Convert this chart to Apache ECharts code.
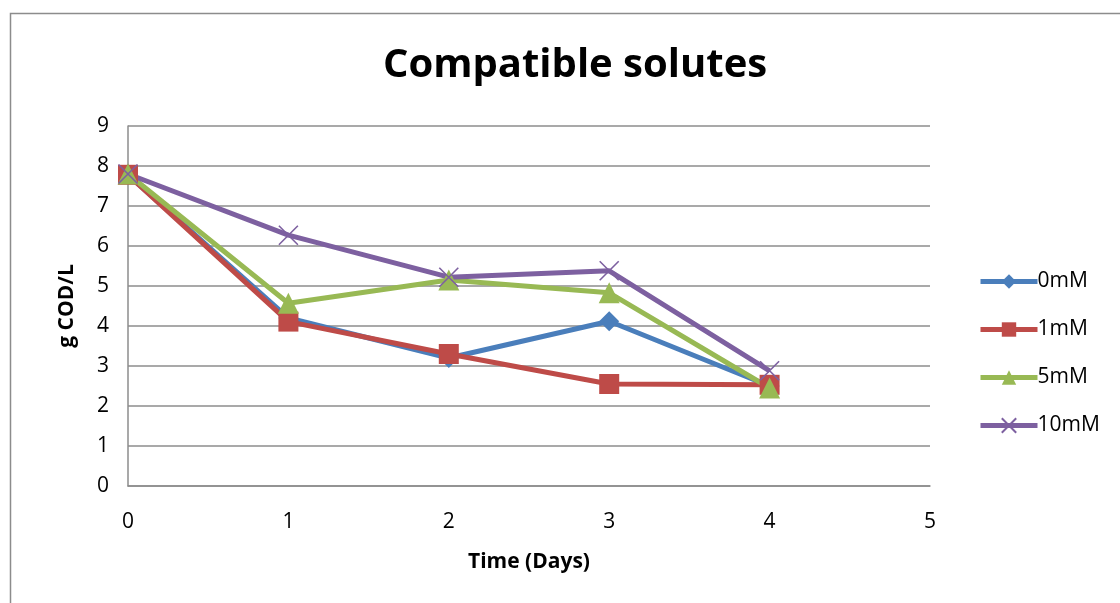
<!DOCTYPE html>
<html><head><meta charset="utf-8">
<script src="https://cdn.jsdelivr.net/npm/echarts@6/dist/echarts.min.js"></script>
<style>html,body{margin:0;padding:0;background:#fff}#c{width:1120px;height:603px}</style>
</head><body><div id="c"></div>
<script>
const days = [0, 1, 2, 3, 4];
const seriesNames = ['0mM', '1mM', '5mM', '10mM'];
const s0mM = [7.78, 4.2, 3.2, 4.12, 2.5];
const s1mM = [7.78, 4.11, 3.3, 2.55, 2.53];
const s5mM = [7.8, 4.57, 5.15, 4.83, 2.45];
const s10mM = [7.8, 6.27, 5.22, 5.38, 2.88];
const yTicks = [0, 1, 2, 3, 4, 5, 6, 7, 8, 9];

const colors = ['#4a7ebb', '#be4b48', '#98b954', '#7d60a0'];
const symbols = ['diamond', 'rect', 'triangle', 'path://M0,0 L10,10 M10,0 L0,10'];
const sizes = [20, 20, 21, 19];
const all = [s0mM, s1mM, s5mM, s10mM];
const font = 'Open Sans';

const chart = echarts.init(document.getElementById('c'));
chart.setOption({
  animation: false,
  backgroundColor: '#fff',
  graphic: [{type: 'rect', shape: {x: 10.5, y: 13.5, width: 1200, height: 700},
    style: {fill: 'none', stroke: '#8c8c8c', lineWidth: 1.5}, z: -1}],
  title: {text: 'Compatible solutes', left: 378, top: 41,
    textStyle: {fontFamily: font, fontWeight: 'bold', fontSize: 40, color: '#000'}},
  grid: {left: 128, right: 190, top: 126, bottom: 117},
  legend: {orient: 'vertical', left: 973, top: 266, itemWidth: 57, itemHeight: 18, itemGap: 27,
    lineStyle: {width: 5},
    textStyle: {fontFamily: font, fontSize: 21, color: '#000', padding: [0, 0, 0, -5]},
    data: seriesNames},
  xAxis: {type: 'value', min: 0, max: 5, interval: 1,
    name: 'Time (Days)', nameLocation: 'middle', nameGap: 66,
    nameTextStyle: {fontFamily: font, fontWeight: 'bold', fontSize: 21, color: '#000'},
    axisLine: {show: true, lineStyle: {color: '#8c8c8c', width: 1.5}},
    axisTick: {show: false}, splitLine: {show: false},
    axisLabel: {fontFamily: font, fontSize: 21, color: '#000', margin: 26}},
  yAxis: {type: 'value', min: 0, max: 9, interval: 1,
    name: 'g COD/L', nameLocation: 'middle', nameGap: 50, nameRotate: 90,
    nameTextStyle: {fontFamily: font, fontWeight: 'bold', fontSize: 21, color: '#000'},
    axisLine: {show: true, lineStyle: {color: '#8c8c8c', width: 1.5}},
    axisTick: {show: false},
    splitLine: {show: true, lineStyle: {color: '#8c8c8c', width: 1.5}},
    axisLabel: {fontFamily: font, fontSize: 21, color: '#000', margin: 19,
      formatter: v => yTicks.includes(v) ? String(v) : ''}},
  series: seriesNames.map((n, i) => ({
    name: n, type: 'line', data: days.map((d, j) => [d, all[i][j]]),
    symbol: symbols[i], symbolSize: sizes[i], showAllSymbol: true,
    lineStyle: {color: colors[i], width: 5},
    itemStyle: i === 3 ? {color: colors[i], borderColor: colors[i], borderWidth: 1.6}
                       : {color: colors[i], borderColor: colors[i], borderWidth: 0},
    emphasis: {disabled: true}
  }))
});
</script></body></html>
